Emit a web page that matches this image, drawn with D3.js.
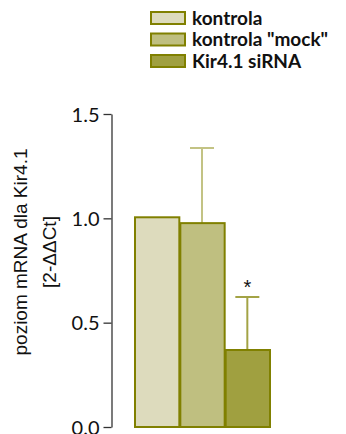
<!DOCTYPE html>
<html lang="en">
<head>
	<meta charset="UTF-8"/>
	<title>Kir4.1 mRNA</title>
	<script src="https://d3js.org/d3.v7.min.js"></script>
	<style>
		body { margin:0; background:#fff; }
	</style>
</head>
<body>
<script>
	var w = 346;
	var h = 434;

	// data
	var groups = ["kontrola", "kontrola \"mock\"", "Kir4.1 siRNA"];
	var means = [1.005, 0.977, 0.369];
	var errUp = [0, 0.36, 0.254];
	var stars = ["", "", "*"];
	var yTicks = [0, 0.5, 1.0, 1.5];
	var fills = ["#dddbbd", "#bfbf80", "#a0a040"];
	var errColors = ["#dddbbd", "#c3c384", "#a3a345"];

	var svg = d3.select("body")
		.append("svg")
		.attr("width", w)
		.attr("height", h);

	var xScale = d3.scaleBand()
		.domain(groups)
		.range([134, 270])
		.padding(0);

	var yScale = d3.scaleLinear()
		.domain([0, 1.5])
		.range([427, 114]);

	// y axis
	var yAxis = d3.axisLeft(yScale)
		.tickValues(yTicks)
		.tickFormat(d3.format(".1f"))
		.tickSize(8)
		.tickSizeOuter(0);

	var gy = svg.append("g")
		.attr("transform", "translate(111.5,0)")
		.call(yAxis);
	gy.select(".domain").attr("stroke", "#333").attr("stroke-width", 1.3);
	gy.selectAll(".tick line").attr("stroke", "#333").attr("stroke-width", 1.3);
	gy.selectAll(".tick text")
		.attr("x", -12)
		.attr("dy", "0.36em")
		.attr("fill", "#111")
		.style("font-family", "Lato, sans-serif")
		.style("font-size", "20px");

	// error bars (upper only)
	groups.forEach(function(g, i) {
		if (errUp[i] <= 0) return;
		var cx = xScale(g) + xScale.bandwidth() / 2;
		svg.append("line")
			.attr("x1", cx).attr("x2", cx)
			.attr("y1", yScale(means[i]))
			.attr("y2", yScale(means[i] + errUp[i]))
			.attr("stroke", errColors[i])
			.attr("stroke-width", 2);
		svg.append("line")
			.attr("x1", cx - 12).attr("x2", cx + 12)
			.attr("y1", yScale(means[i] + errUp[i]))
			.attr("y2", yScale(means[i] + errUp[i]))
			.attr("stroke", errColors[i])
			.attr("stroke-width", 2);
	});

	// bars
	svg.selectAll("rect.bar")
		.data(means)
		.enter()
		.append("rect")
		.attr("class", "bar")
		.attr("x", function(d, i) { return xScale(groups[i]) + 1; })
		.attr("y", function(d) { return yScale(d); })
		.attr("width", xScale.bandwidth() - 1)
		.attr("height", function(d) { return yScale(0) - yScale(d); })
		.attr("fill", function(d, i) { return fills[i]; })
		.attr("stroke", "#808000")
		.attr("stroke-width", 2);

	// significance star
	svg.selectAll("text.star")
		.data(stars)
		.enter()
		.append("text")
		.attr("class", "star")
		.attr("x", function(d, i) { return xScale(groups[i]) + xScale.bandwidth() / 2; })
		.attr("y", function(d, i) { return yScale(means[i] + errUp[i]) - 3; })
		.attr("text-anchor", "middle")
		.style("font-family", "Liberation Sans, Arial, sans-serif")
		.style("font-size", "20px")
		.attr("fill", "#111")
		.text(function(d) { return d; });

	// y title
	var title = svg.append("text")
		.attr("transform", "translate(0,252) rotate(-90)")
		.attr("text-anchor", "middle")
		.style("font-family", "Liberation Sans, Arial, sans-serif")
		.style("font-size", "19px")
		.attr("fill", "#111");
	title.append("tspan").attr("x", 0).attr("y", 27).text("poziom mRNA dla Kir4.1");
	title.append("tspan").attr("x", 0).attr("y", 56).text("[2-\u0394\u0394Ct]");

	// legend
	var legend = svg.selectAll("g.leg")
		.data(groups)
		.enter()
		.append("g")
		.attr("class", "leg")
		.attr("transform", function(d, i) { return "translate(151," + (12 + i * 21.5) + ")"; });
	legend.append("rect")
		.attr("x", 0).attr("y", 0)
		.attr("width", 34).attr("height", 12)
		.attr("fill", function(d, i) { return fills[i]; })
		.attr("stroke", "#808000")
		.attr("stroke-width", 2);
	legend.append("text")
		.attr("x", 41)
		.attr("y", 6)
		.attr("dy", "0.35em")
		.style("font-family", "Lato, sans-serif")
		.style("font-size", "19px")
		.style("font-weight", "bold")
		.attr("fill", "#111")
		.text(function(d) { return d; });
</script>
</body>
</html>
